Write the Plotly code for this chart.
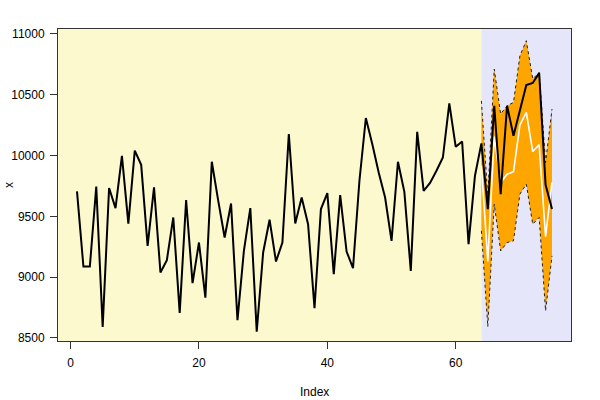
import plotly.graph_objects as go

# ---- data ----
index = list(range(1, 76))
actual = [9705, 9087, 9087, 9746, 8591, 9733, 9568, 9998, 9441, 10040,
          9924, 9258, 9738, 9038, 9140, 9491, 8706, 9634, 8951, 9285,
          8832, 9949, 9630, 9326, 9606, 8646, 9216, 9568, 8552, 9203,
          9472, 9129, 9285, 10177, 9441, 9655, 9436, 8745, 9560, 9691,
          9025, 9675, 9211, 9074, 9793, 10309, 10095, 9861, 9655, 9299,
          9949, 9702, 9052, 10196, 9710, 9775, 9875, 9984, 10429, 10072,
          10116, 9272, 9834, 10100, 9560, 10410, 9683, 10410, 10163, 10369,
          10580, 10597, 10679, 9760, 9560]
train_end = 64
fc_index = list(range(64, 76))
forecast = [9915, 9130, 10156, 9779, 9847, 9868, 10252, 10355, 10033, 10088, 9333, 9779]
upper = [10450, 9667, 10712, 10342, 10410, 10437, 10821, 10945, 10630, 10684, 9943, 10383]
lower = [9381, 8593, 9601, 9216, 9285, 9299, 9683, 9765, 9436, 9491, 8723, 9175]
x_ticks = [0, 20, 40, 60]
y_ticks = [8500, 9000, 9500, 10000, 10500, 11000]
x_label = "Index"
y_label = "x"

# R-style 4% padding on x
xmin, xmax = min(index), max(index)
pad = (xmax - xmin) * 0.04
xr = [xmin - pad, xmax + pad]
yr = [8475, 11041]

fig = go.Figure()
fig.add_trace(go.Scatter(x=fc_index, y=upper, mode="lines",
                         line=dict(color="rgba(0,0,0,0)", width=0),
                         hoverinfo="skip", showlegend=False))
fig.add_trace(go.Scatter(x=fc_index, y=lower, mode="lines", fill="tonexty",
                         fillcolor="#FFA500",
                         line=dict(color="rgba(0,0,0,0)", width=0),
                         hoverinfo="skip", showlegend=False))
for band in (upper, lower):
    fig.add_trace(go.Scatter(x=fc_index, y=band, mode="lines",
                             line=dict(color="#222222", width=1, dash="3px,3px"),
                             showlegend=False))
fig.add_trace(go.Scatter(x=fc_index, y=forecast, mode="lines",
                         line=dict(color="white", width=1.6), showlegend=False))
fig.add_trace(go.Scatter(x=index, y=actual, mode="lines",
                         line=dict(color="black", width=2), showlegend=False))

fig.add_shape(type="rect", xref="x", yref="paper", x0=xr[0], x1=train_end, y0=0, y1=1,
              fillcolor="#FDF9CE", line_width=0, layer="below")
fig.add_shape(type="rect", xref="x", yref="paper", x0=train_end, x1=xr[1], y0=0, y1=1,
              fillcolor="#E6E6FA", line_width=0, layer="below")

font = dict(family="Liberation Sans, Arial, sans-serif", size=12, color="black")
fig.update_layout(
    width=600, height=400,
    margin=dict(l=58, r=29, t=29, b=59, autoexpand=False),
    paper_bgcolor="white", plot_bgcolor="white",
    font=font, showlegend=False,
    xaxis=dict(range=xr, tickvals=x_ticks, ticktext=[str(v) for v in x_ticks],
               ticks="outside", ticklen=7, tickcolor="#333", automargin=False,
               ticklabelstandoff=4,
               showgrid=False, zeroline=False, showline=True, linecolor="#333",
               mirror=True, tickfont=font),
    yaxis=dict(range=yr, tickvals=y_ticks, ticktext=[str(v) for v in y_ticks],
               ticks="outside", ticklen=7, tickcolor="#333", automargin=False,
               ticklabelstandoff=3,
               showgrid=False, zeroline=False, showline=True, linecolor="#333",
               mirror=True, tickfont=font),
    annotations=[
        dict(text=x_label, xref="paper", yref="paper", x=0.5, y=0, yanchor="middle",
             yshift=-51, showarrow=False, font=font),
        dict(text=y_label, xref="paper", yref="paper", x=0, y=0.5, xanchor="center",
             xshift=-49, textangle=-90, showarrow=False, font=font),
    ],
)
fig.write_html("out.html", config={"displayModeBar": False},
               post_script="document.body.style.margin='0';document.body.style.overflow='hidden';")
